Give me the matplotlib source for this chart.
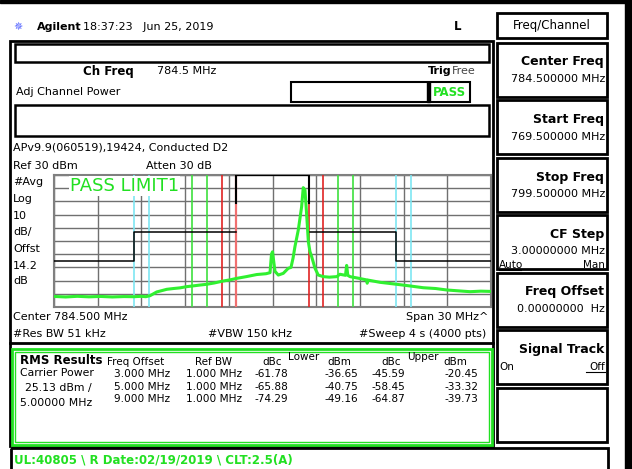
import matplotlib
matplotlib.use("Agg")
import matplotlib.pyplot as plt
from matplotlib.patches import Rectangle

# ---- data ----
# frequency offset from centre (MHz) and level (dBm) of the trace
trace_mhz = [-15.0, -14.2, -13.4, -12.6, -11.8, -11.0, -10.2, -9.5, -9.0, -8.7,
             -8.4, -7.95, -7.6, -7.26, -6.8, -6.35, -5.9, -5.44, -5.0, -4.52,
             -4.0, -3.38, -2.9, -2.46, -1.8, -1.08, -0.45, -0.17, -0.07, 0.0,
             0.09, 0.17, 0.4, 0.74, 1.08, 1.27, 1.41, 1.54, 1.77, 2.0,
             2.11, 2.23, 2.3, 2.39, 2.46, 2.57, 2.69, 2.92, 3.14, 3.49,
             3.9, 4.41, 4.63, 5.01, 5.09, 5.17, 5.32, 5.9, 6.47, 6.5,
             6.55, 7.38, 8.53, 9.4, 10.35, 11.2, 11.96, 12.8, 13.56, 14.3, 15.0]
trace_dbm = [-62.0, -62.4, -61.9, -62.3, -62.0, -62.4, -62.1, -62.2, -61.9, -62.2,
             -61.4, -58.6, -57.6, -56.6, -56.0, -55.5, -54.6, -54.0, -53.4, -52.8,
             -51.8, -50.3, -49.4, -48.3, -47.0, -45.4, -44.8, -44.0, -30.0, -28.2,
             -36.0, -43.0, -45.8, -44.5, -40.7, -40.0, -33.0, -24.3, -11.7, 6.0,
             20.4, 18.6, 7.3, -7.9, -20.5, -28.0, -31.9, -40.7, -45.8, -47.0,
             -47.4, -47.0, -45.2, -46.0, -38.5, -46.0, -47.0, -48.2, -49.5, -52.0,
             -49.6, -51.3, -52.8, -54.0, -55.4, -56.0, -57.1, -57.8, -58.4, -58.0, -58.2]

# ACP integration windows (MHz offsets) and their marker colours
acp_edges = [(-9.5, -8.5), (-5.5, -4.5), (-3.5, -2.5), (2.5, 3.5), (4.5, 5.5), (8.5, 9.5)]
acp_colors = ['#7ee6f2', '#3ee03e', '#e02424', '#e02424', '#3ee03e', '#7ee6f2']

# limit line (MHz, dBm)
limit_x = [-15.0, -9.5, -9.5, -2.5]
limit_y = [-35.0, -35.0, -13.0, -13.0]
limit_rx = [2.5, 8.5, 8.5, 15.0]
limit_ry = [-13.0, -13.0, -35.0, -35.0]

offsets = ['3.000 MHz', '5.000 MHz', '9.000 MHz']
ref_bw = ['1.000 MHz', '1.000 MHz', '1.000 MHz']
lower_dbc = ['-61.78', '-65.88', '-74.29']
lower_dbm = ['-36.65', '-40.75', '-49.16']
upper_dbc = ['-45.59', '-58.45', '-64.87']
upper_dbm = ['-20.45', '-33.32', '-39.73']

softkeys = [('Center Freq', '784.500000 MHz'), ('Start Freq', '769.500000 MHz'),
            ('Stop Freq', '799.500000 MHz'), ('CF Step', '3.00000000 MHz'),
            ('Freq Offset', '0.00000000  Hz'), ('Signal Track', ''), ('', '')]

W, H = 632, 469
GREEN = '#22e022'
fig = plt.figure(figsize=(W / 100, H / 100), dpi=100)
bg = fig.add_axes([0, 0, 1, 1])
bg.set_xlim(0, W)
bg.set_ylim(H, 0)
bg.axis('off')


def txt(x, y, s, size=8, weight='normal', color='black', ha='left'):
    bg.text(x, y, s, fontsize=size, fontweight=weight, color=color, ha=ha, va='center',
            family='DejaVu Sans')


def box(x0, y0, x1, y1, lw=1.5, color='black', fill='none'):
    bg.add_patch(Rectangle((x0, y0), x1 - x0, y1 - y0, lw=lw, edgecolor=color,
                           facecolor=fill))


# black strips at top and right edge
bg.add_patch(Rectangle((0, 0), W, 3, color='black'))
bg.add_patch(Rectangle((625, 0), 7, H, color='black'))

# header
txt(14, 27, '\u2735', size=8, color='#5060ff')
txt(37, 27, 'Agilent', size=8, weight='bold')
txt(83, 27, '18:37:23   Jun 25, 2019', size=8)
txt(454, 27, 'L', size=8.5, weight='bold')

# main panel
box(10, 41, 493, 446, lw=2)
bg.plot([10, 493], [343, 343], color='black', lw=2)
box(15, 44, 489, 62, lw=1.8)
txt(83, 71, 'Ch Freq', size=8.5, weight='bold')
txt(157, 71, '784.5 MHz', size=8)
txt(428, 71, 'Trig', size=8, weight='bold')
txt(452, 71, 'Free', size=8, color='#444444')
txt(16, 92, 'Adj Channel Power', size=8)
box(291, 82, 470, 102, lw=1.5)
bg.add_patch(Rectangle((427, 82), 3, 20, color='black'))
txt(433, 92, 'PASS', size=8.5, weight='bold', color=GREEN)
box(15, 105, 489, 136, lw=1.8)
txt(13, 147, 'APv9.9(060519),19424, Conducted D2', size=8)
txt(13, 166, 'Ref 30 dBm', size=8)
txt(146, 166, 'Atten 30 dB', size=8)
for yy, s in zip([182, 199, 216, 232, 249, 266, 281],
                 ['#Avg', 'Log', '10', 'dB/', 'Offst', '14.2', 'dB']):
    txt(13, yy, s, size=8)
txt(13, 317, 'Center 784.500 MHz', size=8)
txt(488, 317, 'Span 30 MHz^', size=8, ha='right')
txt(13, 334, '#Res BW 51 kHz', size=8)
txt(208, 334, '#VBW 150 kHz', size=8)
txt(486, 334, '#Sweep 4 s (4000 pts)', size=8, ha='right')

# RMS results panel
box(12, 349, 492, 445, lw=2, color=GREEN)
box(15, 352, 489, 442, lw=1, color=GREEN)
txt(20, 360, 'RMS Results', size=8.5, weight='bold')
txt(107, 362, 'Freq Offset', size=7.5)
txt(195, 362, 'Ref BW', size=7.5)
txt(262, 362, 'dBc', size=7.5)
txt(288, 357, 'Lower', size=7.5)
txt(327, 362, 'dBm', size=7.5)
txt(381, 362, 'dBc', size=7.5)
txt(407, 357, 'Upper', size=7.5)
txt(443, 362, 'dBm', size=7.5)
txt(20, 373, 'Carrier Power', size=7.8)
txt(25, 388, '25.13 dBm /', size=7.8)
txt(20, 403, '5.00000 MHz', size=7.8)
for i in range(3):
    yy = 374 + i * 12.7
    txt(170, yy, offsets[i], size=7.6, ha='right')
    txt(242, yy, ref_bw[i], size=7.6, ha='right')
    txt(288, yy, lower_dbc[i], size=7.6, ha='right')
    txt(358, yy, lower_dbm[i], size=7.6, ha='right')
    txt(405, yy, upper_dbc[i], size=7.6, ha='right')
    txt(478, yy, upper_dbm[i], size=7.6, ha='right')

# bottom status bar
box(11, 448, 608, 475, lw=2)
txt(14, 460, 'UL:40805 \\ R Date:02/19/2019 \\ CLT:2.5(A)', size=8.5, weight='bold', color=GREEN)

# softkey panel
box(497, 13, 607, 38, lw=2)
txt(552, 26, 'Freq/Channel', size=8.5, ha='center')
for i, (lab, val) in enumerate(softkeys):
    y0 = 43 + i * 57.5
    box(497, y0, 607, y0 + 54, lw=2)
    if lab:
        txt(604, y0 + 19, lab, size=9, weight='bold', ha='right')
    if val:
        txt(605, y0 + 36, val, size=8, ha='right')
txt(499, 43 + 3 * 57.5 + 50, 'Auto', size=7.5)
bg.plot([499, 521], [43 + 3 * 57.5 + 55, 43 + 3 * 57.5 + 55], color='black', lw=0.8)
txt(605, 43 + 3 * 57.5 + 50, 'Man', size=7.5, ha='right')
txt(499, 43 + 5 * 57.5 + 36, 'On', size=7.5)
txt(605, 43 + 5 * 57.5 + 36, 'Off', size=7.5, ha='right')
bg.plot([586, 605], [43 + 5 * 57.5 + 42, 43 + 5 * 57.5 + 42], color='black', lw=0.8)

# ---- spectrum display ----
ax = fig.add_axes([54 / W, 1 - 307 / H, 437 / W, 132 / H])
ax.set_xlim(-15, 15)
ax.set_ylim(-70, 30)
ax.set_xticks(range(-15, 16, 3))
ax.set_yticks(range(-70, 31, 10))
ax.grid(True, color='#707070', lw=1)
ax.tick_params(length=0, labelbottom=False, labelleft=False)
for sp in ax.spines.values():
    sp.set_color('#808080')
    sp.set_linewidth(1.5)

for (a, b), c in zip(acp_edges, acp_colors):
    ax.axvline(a, color=c, lw=1.2, zorder=3)
    ax.axvline(b, color=c, lw=1.2, zorder=3)
ax.axvline(-2.5, color='#f07070', lw=1.6, zorder=3)

ax.plot(limit_x, limit_y, color='black', lw=1.1, zorder=4)
ax.plot(limit_rx, limit_ry, color='black', lw=1.1, zorder=4)
ax.plot([-2.5, -2.5, 2.5, 2.5], [9, 30, 30, 9], color='black', lw=1.5, zorder=4)

ax.plot(trace_mhz, trace_dbm, color='#30f030', lw=2.2, zorder=5)

ax.text(-13.9, 21.5, 'PASS LIMIT1', fontsize=13, color=GREEN, va='center', zorder=6,
        bbox=dict(facecolor='white', edgecolor='none', pad=0.5))

fig.savefig('out.png', dpi=100)
